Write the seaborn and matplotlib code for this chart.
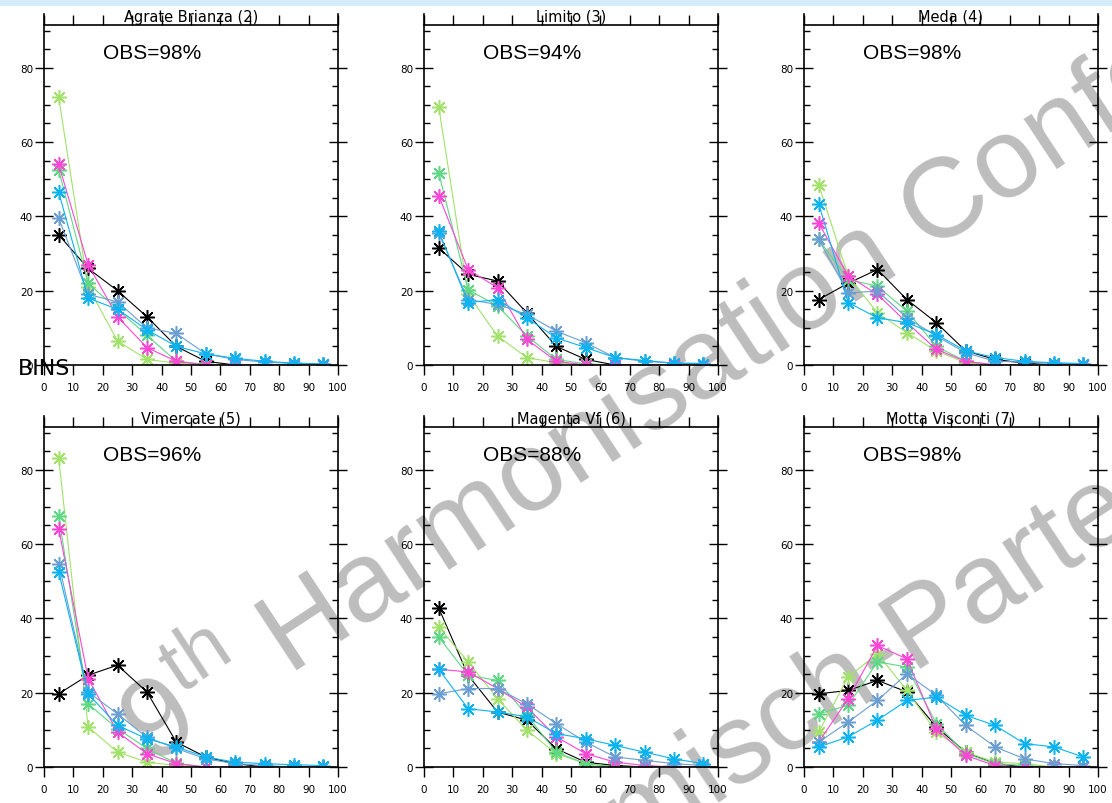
import numpy as np
import pandas as pd
import matplotlib
matplotlib.use('Agg')
import matplotlib.pyplot as plt
import matplotlib.ticker as mticker
from matplotlib.patches import Rectangle
import seaborn as sns

# bin centres (x) shared by every station
bins = [5, 15, 25, 35, 45, 55, 65, 75, 85, 95]
series = ['observed', 'model 1', 'model 2', 'model 3', 'model 4', 'model 5']
colours = ['black', '#a2e26a', '#5ed884', '#ff45d6', '#6b9fd2', '#0ab4f2']

titles = ['Agrate Brianza (2)', 'Limito (3)', 'Meda (4)',
          'Vimercate (5)', 'Magenta Vf (6)', 'Motta Visconti (7)']
obs_labels = ['OBS=98%', 'OBS=94%', 'OBS=98%', 'OBS=96%', 'OBS=88%', 'OBS=98%']

# rows follow the order of `series`
agrate = [
    [35, 26, 20, 13, 5, 1, 0, 0, 0, 0],
    [72, 21, 6.5, 1.5, 0.5, 0, 0, 0, 0, 0],
    [52.5, 22, 15, 8, 1, 0.2, 0, 0, 0, 0],
    [54, 27, 13, 4.7, 1, 0, 0, 0, 0, 0],
    [39.5, 19, 17, 10, 8.5, 3, 1.5, 0.8, 0.4, 0.3],
    [46.5, 18, 15, 9.5, 5, 3, 1.8, 1, 0.5, 0.3],
]
limito = [
    [31.5, 24.4, 22.6, 14, 5, 1.5, 0, 0, 0, 0],
    [69.5, 19, 7.8, 2, 0.6, 0, 0, 0, 0, 0],
    [51.7, 20.3, 15.9, 7.8, 1.5, 0.3, 0, 0, 0, 0],
    [45.6, 25.7, 20.8, 6.9, 1, 0, 0, 0, 0, 0],
    [35.5, 17.6, 16.3, 13.6, 9.1, 6, 2, 1, 0.5, 0.4],
    [36, 16.8, 17.6, 12.7, 7.3, 4.7, 2, 1.2, 0.5, 0.4],
]
meda = [
    [17.6, 22, 25.7, 17.6, 11.4, 3.8, 1.5, 0.5, 0, 0],
    [48.5, 24, 14, 8.7, 3.8, 0.6, 0, 0, 0, 0],
    [33.8, 23, 21.2, 14.5, 5, 1, 0, 0, 0, 0],
    [38.2, 24, 19, 11.4, 4.2, 1, 0, 0, 0, 0],
    [33.8, 19.4, 19.9, 12.7, 7.8, 3.3, 1, 0.8, 0.4, 0.3],
    [43.4, 16.8, 12.7, 11.4, 8.2, 3.8, 2, 1, 0.6, 0.4],
]
vimercate = [
    [19.7, 24.7, 27.4, 20.2, 6.7, 2.7, 0.9, 0, 0, 0],
    [83.1, 10.8, 4, 1.3, 0.4, 0, 0, 0, 0, 0],
    [67.5, 17, 10.3, 5, 1, 0, 0, 0, 0, 0],
    [64.1, 23.8, 9.4, 3.6, 0.9, 0, 0, 0, 0, 0],
    [54.7, 20.2, 14.3, 8, 5, 2.2, 0.9, 0.4, 0, 0],
    [52.5, 19.7, 11.2, 7.6, 5.4, 2.7, 1.3, 0.9, 0.6, 0.4],
]
magenta_vf = [
    [42.8, 24.7, 14.8, 12.6, 4.9, 1.3, 0.4, 0, 0, 0],
    [37.7, 28.3, 18.4, 9.9, 3.6, 0.9, 0, 0, 0, 0],
    [35, 24.7, 23.3, 13.9, 4, 0.9, 0, 0, 0, 0],
    [26.3, 25.6, 21.1, 16.1, 8.1, 3.6, 1.3, 0.4, 0, 0],
    [19.7, 21.1, 21.1, 17, 11.7, 6.7, 2.7, 1.8, 0.9, 0.4],
    [26.3, 15.7, 14.8, 13.5, 9, 7.6, 5.8, 4, 2.2, 0.9],
]
motta = [
    [19.7, 20.6, 23.3, 20.2, 10.8, 4, 0.9, 0, 0, 0],
    [9.4, 24.2, 30.5, 20.6, 9.4, 4, 1.3, 0.9, 0, 0],
    [14.3, 16.6, 28.3, 26.9, 11.7, 3.6, 0.9, 0.4, 0, 0],
    [6.7, 18.4, 32.7, 29.1, 10.3, 3.1, 0.4, 0, 0, 0],
    [6.7, 12.1, 17.9, 25.1, 19.3, 11.2, 5.4, 2.2, 0.9, 0.4],
    [5.4, 8.1, 12.6, 17.9, 18.8, 13.9, 11.2, 6.3, 5.4, 2.7],
]
panels = [agrate, limito, meda, vimercate, magenta_vf, motta]


def panel_frame(panel):
    rows = []
    for name, vals in zip(series, panel):
        for b, v in zip(bins, vals):
            rows.append({'bin': b, 'value': v, 'series': name})
    return pd.DataFrame(rows)


sns.set_style('ticks')
plt.rcParams['font.family'] = ['DejaVu Sans']
plt.rcParams['mathtext.fontset'] = 'custom'
plt.rcParams['mathtext.rm'] = 'Liberation Sans'
for key in ['text.color', 'xtick.color', 'ytick.color', 'axes.labelcolor', 'axes.edgecolor']:
    plt.rcParams[key] = 'black'

W, H = 1112, 804
fig = plt.figure(figsize=(W / 100, H / 100), dpi=100)
fig.patch.set_facecolor('white')
fig.patches.append(Rectangle((0, 1 - 7 / H), 1, 7 / H, transform=fig.transFigure,
                             facecolor='#d5ecfb', edgecolor='none', zorder=-3))

palette = dict(zip(series, colours))
col_left = [44, 424, 804]
row_bottom = [366, 768]
for i, (panel, title, obs) in enumerate(zip(panels, titles, obs_labels)):
    r, c = divmod(i, 3)
    ax = fig.add_axes([col_left[c] / W, 1 - row_bottom[r] / H, 294 / W, 340 / H])
    ax.set_facecolor('none')
    df = panel_frame(panel)
    sns.lineplot(data=df, x='bin', y='value', hue='series', hue_order=series,
                 palette=palette, marker=(8, 2, 0), markersize=10.5, linewidth=0.8,
                 estimator=None, sort=False, legend=False, ax=ax)
    for line in ax.lines:
        line.set_markeredgecolor(line.get_color())
        line.set_markeredgewidth(1.1)
    ax.set_xlim(0, 100)
    ax.set_ylim(0, 91.5)
    ax.xaxis.set_major_locator(mticker.MultipleLocator(10))
    ax.yaxis.set_major_locator(mticker.MultipleLocator(20))
    ax.yaxis.set_minor_locator(mticker.MultipleLocator(5))
    ax.tick_params(axis='x', which='major', top=True, bottom=True, direction='out',
                   length=7.5, width=1, labelsize=7.5, pad=4.5)
    ax.tick_params(axis='y', which='major', left=True, right=True, direction='inout',
                   length=13, width=1, labelsize=7.5, pad=1.5)
    ax.tick_params(axis='y', which='minor', left=True, right=True, direction='in',
                   length=4.3, width=1)
    for side in ['left', 'right', 'top', 'bottom']:
        ax.spines[side].set_linewidth(1.2)
        ax.spines[side].set_color('black')
    ax.spines['left'].set_bounds(0, 94.5)
    ax.spines['right'].set_bounds(0, 94.5)
    ax.set_xlabel('')
    ax.set_ylabel('')
    ax.set_title(title, fontsize=10.5, pad=3, color='black')
    ax.text(0.2, 0.918, obs, transform=ax.transAxes, fontsize=15, color='black',
            family='Liberation Sans', ha='left', va='center')

fig.text(18 / W, 1 - 375 / H, 'BINS', fontsize=16, ha='left', va='baseline')

# watermark behind the plots
fig.text(151 / W, 1 - 767 / H, '9$^{\\mathrm{th}}$ Harmonisation Conference',
         fontsize=82, color='#bdbdbd', family='Liberation Sans', rotation=33.4,
         rotation_mode='anchor', ha='left', va='baseline', zorder=-1)
fig.text(970 / W, 1 - 597 / H, 'Garmisch-Partenkirchen',
         fontsize=82, color='#bdbdbd', family='Liberation Sans', rotation=33.4,
         rotation_mode='anchor', ha='center', va='center', zorder=-1)

fig.savefig('out.png', dpi=100)
